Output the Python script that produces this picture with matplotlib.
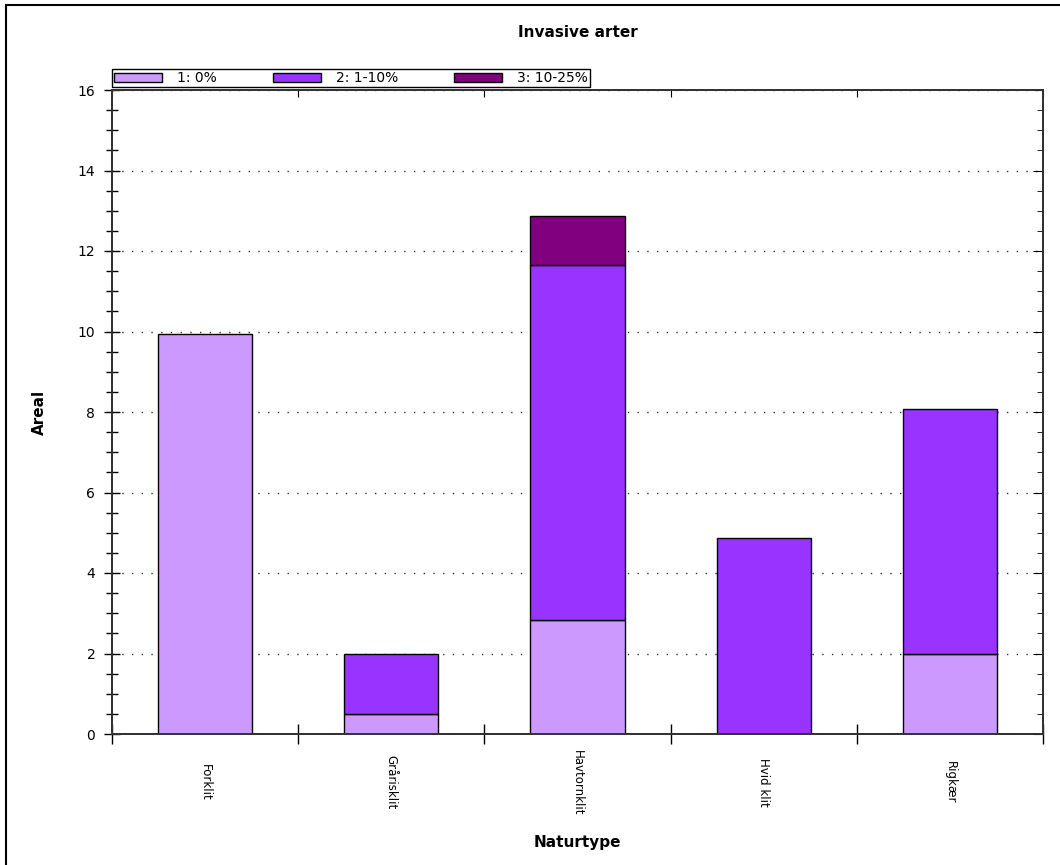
import matplotlib.pyplot as plt
import numpy as np
from matplotlib.patches import Rectangle

# Data.
categories = ["Forklit", "Gråris" "klit", "Havtornklit", "Hvid klit", "Rigkær"]
series_names = ["1: 0%", "2: 1-10%", "3: 10-25%"]
level_1 = [9.95, 0.5, 2.83, 0.0, 2.0]
level_2 = [0.0, 1.5, 8.82, 4.87, 6.07]
level_3 = [0.0, 0.0, 1.22, 0.0, 0.0]
colors = ["#CC99FF", "#9933FF", "#800080"]

fig = plt.figure(figsize=(10.6, 8.65), dpi=100)
ax = fig.add_axes([112 / 1060, 131 / 865, 931 / 1060, 644 / 865])

# Frame around the whole picture.
fig.patches.append(Rectangle((6 / 1060, -0.05), 1.1, 1 - 5 / 865 + 0.05,
                             transform=fig.transFigure, fill=False,
                             edgecolor="black", linewidth=1.5))

x = np.arange(len(categories))
bottom = np.zeros(len(categories))
for name, values, color in zip(series_names, [level_1, level_2, level_3], colors):
    values = np.array(values)
    mask = values > 0
    ax.bar(x[mask], values[mask], width=0.505, bottom=bottom[mask], color=color,
           edgecolor="black", linewidth=1, label=name, zorder=3)
    bottom += values

ax.set_xlim(-0.5, len(categories) - 0.5)
ax.set_ylim(0, 16)

# Y axis ticks.
ax.set_yticks(np.arange(0, 17, 2))
ax.set_yticks(np.arange(0, 16.5, 0.5), minor=True)
ax.tick_params(axis="y", which="major", direction="inout", length=12, width=1,
               labelsize=10, pad=6)
ax.tick_params(axis="y", which="minor", direction="inout", length=9, width=1)

# X axis: labels at the centres, ticks at the boundaries.
ax.set_xticks(x)
ax.set_xticklabels(categories, rotation=270, fontsize=8.5, va="center")
ax.set_xticks(np.arange(-0.5, len(categories)), minor=True)
ax.tick_params(axis="x", which="major", length=0, pad=35)
ax.tick_params(axis="x", which="minor", direction="inout", length=14, width=1)

# Ticks on the top and right spines.
ax_top = ax.twiny()
ax_top.set_xlim(ax.get_xlim())
ax_top.set_xticks(np.arange(-0.5, len(categories)))
ax_top.tick_params(axis="x", direction="in", length=5, labeltop=False)
ax_right = ax.twinx()
ax_right.set_ylim(ax.get_ylim())
ax_right.set_yticks(np.arange(0, 17, 2))
ax_right.set_yticks(np.arange(0, 16.5, 0.5), minor=True)
ax_right.tick_params(axis="y", which="major", direction="in", length=7,
                     labelright=False)
ax_right.tick_params(axis="y", which="minor", direction="in", length=4)

for a in (ax, ax_top, ax_right):
    for spine in a.spines.values():
        spine.set_color("#333333")
        spine.set_linewidth(1.2)
ax.spines["left"].set_color("black")

ax.yaxis.grid(True, linestyle=(0, (1, 6)), color="#333333", linewidth=1, zorder=0)
ax.set_axisbelow(True)

ax.set_title("Invasive arter", fontsize=11, fontweight="bold", pad=38)
ax.set_xlabel("Naturtype", fontsize=11, fontweight="bold", labelpad=14)
ax.set_ylabel("Areal", fontsize=11, fontweight="bold", labelpad=22)

leg = ax.legend(loc="lower left", bbox_to_anchor=(0, 1.004), ncol=3, fontsize=10,
                handlelength=3.45, handleheight=0.55, columnspacing=4.0,
                handletextpad=1.1, borderpad=0.15, borderaxespad=0,
                fancybox=False, framealpha=1, edgecolor="black")
leg.get_frame().set_linewidth(1)

plt.savefig("out.png", dpi=100)
plt.close()
